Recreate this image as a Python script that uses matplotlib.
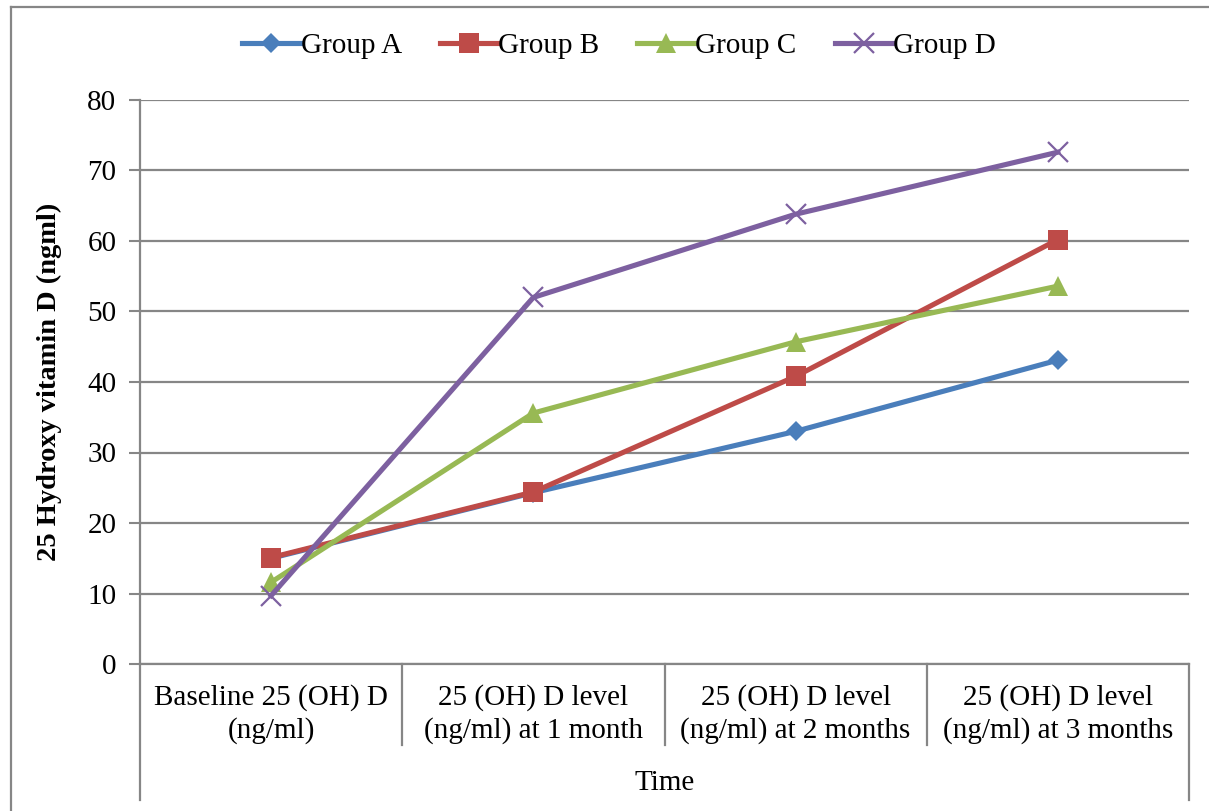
import matplotlib
matplotlib.use("Agg")
import matplotlib.pyplot as plt
from matplotlib.lines import Line2D

categories = ["Baseline 25 (OH) D\n(ng/ml)",
              "25 (OH) D level\n(ng/ml) at 1 month",
              "25 (OH) D level\n(ng/ml) at 2 months",
              "25 (OH) D level\n(ng/ml) at 3 months"]
group_a = [15.0, 24.3, 33.0, 43.1]
group_b = [15.1, 24.4, 40.8, 60.2]
group_c = [11.6, 35.6, 45.7, 53.6]
group_d = [9.7, 52.0, 63.8, 72.6]
series_names = ["Group A", "Group B", "Group C", "Group D"]
y_ticks = [0, 10, 20, 30, 40, 50, 60, 70, 80]

colors = ["#4A7EBB", "#BE4B48", "#98B954", "#7D60A0"]
markers = ["D", "s", "^", "x"]
msizes = [10.5, 14, 14, 14]

plt.rcParams['font.family'] = ['Liberation Serif', 'DejaVu Serif']

W, H = 1209, 811
fig = plt.figure(figsize=(W / 100, H / 100), dpi=100)
L, R, T, B = 140, 1189, 100, 664
ax = fig.add_axes([L / W, 1 - B / H, (R - L) / W, (B - T) / H])

x = list(range(len(categories)))
for vals, name, c, m, ms in zip([group_a, group_b, group_c, group_d], series_names, colors, markers, msizes):
    mew = 1.6 if m == "x" else 0
    ax.plot(x, vals, color=c, lw=3.7, marker=m, ms=ms, mfc=c, mec=c, mew=mew,
            label=name, solid_joinstyle="round", zorder=3)

ax.set_xlim(-0.5, 3.5)
ax.set_ylim(0, 80)
ax.set_yticks(y_ticks)
ax.set_yticklabels([str(v) for v in y_ticks], fontsize=21)
ax.tick_params(axis="y", direction="out", length=8, width=1.5, color="#868686", pad=9)
ax.yaxis.grid(True, color="#868686", lw=1.6)
ax.set_axisbelow(True)
ax.set_xticks([])
for s in ["top", "right"]:
    ax.spines[s].set_visible(False)
ax.spines["left"].set_color("#868686")
ax.spines["left"].set_linewidth(1.6)
ax.spines["bottom"].set_color("#868686")
ax.spines["bottom"].set_linewidth(1.6)

trans = ax.get_xaxis_transform()
h = B - T
y_outer = -(800 - B) / h
y_inner = -(745 - B) / h
for xb in [-0.5, 3.5]:
    ax.plot([xb, xb], [0, y_outer], transform=trans, color="#868686", lw=1.6, clip_on=False)
for xb in [0.5, 1.5, 2.5]:
    ax.plot([xb, xb], [0, y_inner], transform=trans, color="#868686", lw=1.6, clip_on=False)
for xi, lab in zip(x, categories):
    ax.text(xi, -(714 - B) / h, lab, transform=trans, ha="center", va="center",
            fontsize=21, linespacing=1.25)
ax.text(1.5, -(783 - B) / h, "Time", transform=trans, ha="center", va="center", fontsize=21)

ax.set_ylabel("25 Hydroxy vitamin D (ngml)", fontsize=20.5, fontweight="bold")
ax.yaxis.set_label_coords(-(140 - 62) / (R - L), 0.5)

# outer frame
fig.add_artist(Line2D([11 / W, 11 / W], [0, 1 - 7 / H], transform=fig.transFigure, color="#868686", lw=1.6))
fig.add_artist(Line2D([11 / W, 1], [1 - 7 / H, 1 - 7 / H], transform=fig.transFigure, color="#868686", lw=1.6))

handles, labels = ax.get_legend_handles_labels()
fig.legend(handles, labels, loc="center", bbox_to_anchor=(619 / W, 1 - 46 / H), ncol=4,
           frameon=False, fontsize=21, handlelength=2.0, handletextpad=0.0, columnspacing=1.3,
           markerscale=1.0)

fig.savefig("out.png", dpi=100)
